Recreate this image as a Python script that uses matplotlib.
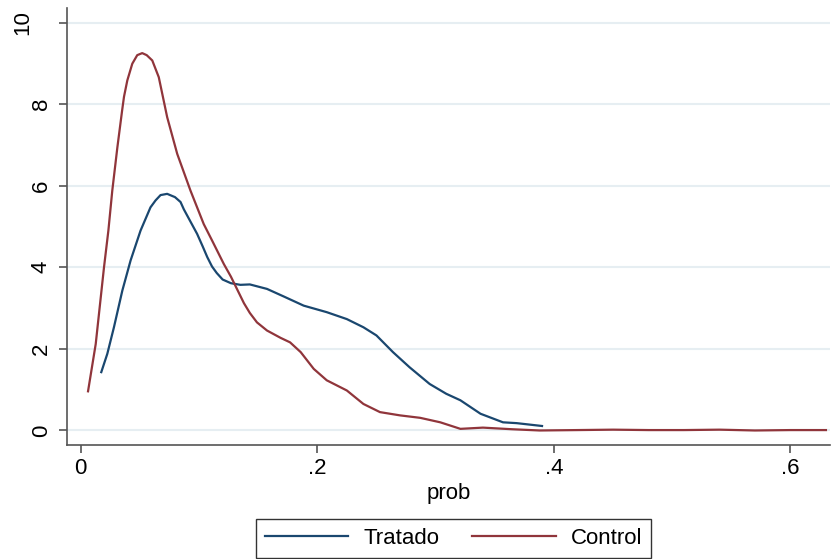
import numpy as np
import matplotlib
matplotlib.use("Agg")
import matplotlib.pyplot as plt
from matplotlib.transforms import ScaledTranslation

plt.rcParams['font.family'] = ['Liberation Sans', 'DejaVu Sans']

# kernel density of prob
x_tratado = [0.0174, 0.0225, 0.0281, 0.0352, 0.0422, 0.0506, 0.059, 0.0633, 0.0675,
             0.0731, 0.0797, 0.0844, 0.0872, 0.0928, 0.0984, 0.103, 0.107, 0.111,
             0.115, 0.120, 0.127, 0.135, 0.143, 0.1575, 0.172, 0.1885, 0.208, 0.225,
             0.239, 0.250, 0.264, 0.278, 0.295, 0.309, 0.321, 0.338, 0.357, 0.3685,
             0.39]
y_tratado = [1.43, 1.88, 2.53, 3.43, 4.17, 4.9, 5.47, 5.64, 5.77,
             5.8, 5.72, 5.6, 5.42, 5.12, 4.82, 4.52, 4.25, 4.02,
             3.86, 3.7, 3.61, 3.57, 3.58, 3.47, 3.28, 3.06, 2.9, 2.73,
             2.53, 2.33, 1.92, 1.55, 1.14, 0.9, 0.74, 0.41, 0.2, 0.18,
             0.11]

x_control = [0.0062, 0.0127, 0.0197, 0.0234, 0.0267, 0.031, 0.035, 0.0366, 0.0394,
             0.0436, 0.0478, 0.052, 0.0558, 0.0605, 0.066, 0.0731, 0.0816, 0.0928,
             0.104, 0.111, 0.121, 0.127, 0.138, 0.143, 0.149, 0.1575, 0.169, 0.177,
             0.186, 0.197, 0.208, 0.225, 0.239, 0.253, 0.270, 0.287, 0.304, 0.321,
             0.340, 0.365, 0.388, 0.42, 0.45, 0.48, 0.51, 0.54, 0.57, 0.60, 0.63]
y_control = [0.96, 2.12, 4.0, 4.9, 5.88, 6.94, 7.84, 8.18, 8.58,
             8.99, 9.2, 9.25, 9.2, 9.07, 8.66, 7.68, 6.78, 5.88,
             5.06, 4.66, 4.08, 3.77, 3.12, 2.88, 2.65, 2.45, 2.27, 2.16,
             1.92, 1.51, 1.23, 0.98, 0.65, 0.45, 0.37, 0.31, 0.2, 0.04,
             0.07, 0.03, 0.0, 0.01, 0.02, 0.01, 0.01, 0.02, 0.0, 0.01, 0.01]

xticks = [0, 0.2, 0.4, 0.6]
xticklabels = ['0', '.2', '.4', '.6']
yticks = [0, 2, 4, 6, 8, 10]

fig = plt.figure(figsize=(8.31, 5.59), dpi=100)
ax = fig.add_axes([0.0806, 0.204, 0.918, 0.782])

ax.plot(x_tratado, y_tratado, color='#1A476F', lw=1.6, label='Tratado')
ax.plot(x_control, y_control, color='#90353B', lw=1.6, label='Control')

ax.set_xlim(-0.0116, 0.6333)
ax.set_ylim(-0.355, 10.36)
ax.set_xticks(xticks)
ax.set_xticklabels(xticklabels)
ax.set_yticks(yticks)
ax.set_yticklabels([str(v) for v in yticks], rotation=90, va='center')
ax.yaxis.grid(True, color='#E6EEF2', lw=1.5)
ax.set_axisbelow(True)

for s in ['top', 'right']:
    ax.spines[s].set_visible(False)
for s in ['left', 'bottom']:
    ax.spines[s].set_color('#555555')
    ax.spines[s].set_linewidth(1.2)
ax.tick_params(colors='#555555', labelcolor='black', labelsize=16, width=1.2)
ax.tick_params(axis='x', length=5.5, pad=4)
ax.tick_params(axis='y', length=6, pad=5)

# the "10" label sits further left in the original
lab10 = ax.get_yticklabels()[-1]
lab10.set_transform(lab10.get_transform() + ScaledTranslation(-18 / 100, 0, fig.dpi_scale_trans))

ax.set_xlabel('prob', fontsize=16, labelpad=3)

fig.legend(loc='lower center', bbox_to_anchor=(0.5457, 0.0), ncol=2, fontsize=16,
           handlelength=3.74, frameon=True, fancybox=False, edgecolor='black',
           borderaxespad=0.05, columnspacing=1.5, handletextpad=0.68)

fig.savefig('out.png', dpi=100, facecolor='white')
